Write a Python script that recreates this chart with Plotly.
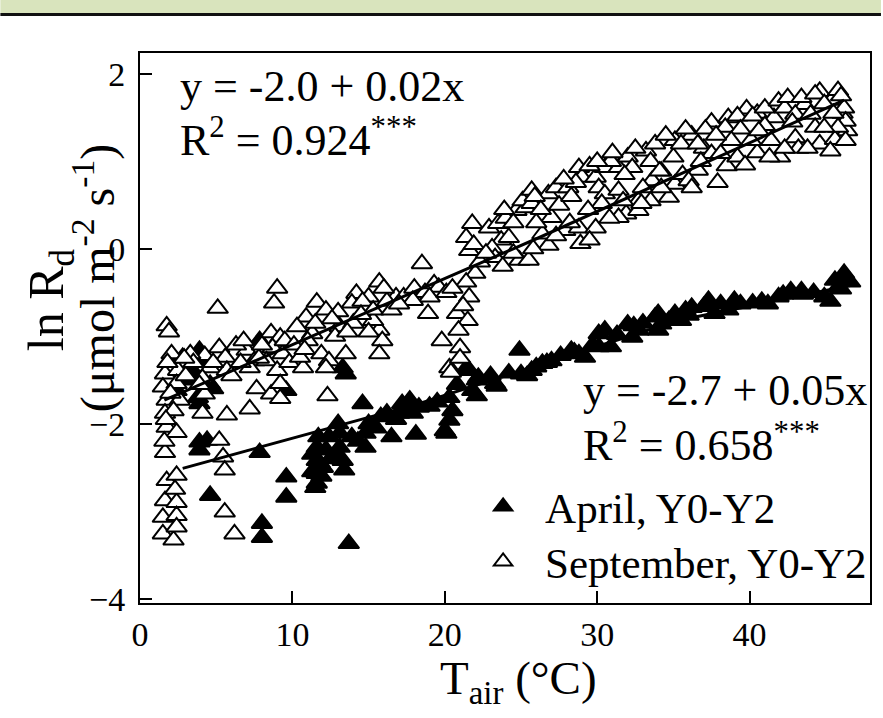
import plotly.graph_objects as go

# ---- data ----
sept_x = [1.75, 2.07, 1.64, 2.5, 1.5, 2.4, 1.75, 2.6, 1.64, 2.2, 1.75, 2.4, 1.64, 1.75, 2.4, 1.64, 2.4, 1.5, 2.4, 1.5, 2.2, 2.4,
          1.8, 2.0, 1.6, 2.3, 1.9, 1.7,
          5.1, 9.0, 8.8, 4.25, 5.2, 5.6, 4.6, 5.7, 4.1, 4.25, 4.1, 5.7, 5.2, 5.45, 5.56, 5.56, 6.2, 7.2, 7.65, 7.0, 7.5, 7.2,
          8.6, 9.2, 8.7, 9.35, 8.3, 9.0, 8.6, 9.2, 9.2, 3.3, 6.3, 6.6, 3.0, 6.8,
          3.5, 4.8, 6.0, 7.8, 8.0, 9.5, 9.8, 3.9, 2.9,
          10.7, 10.5, 10.9, 10.3, 11.6, 11.3, 12.2, 13.0, 11.9, 12.4, 12.2, 13.5, 12.3, 13.1, 14.2, 13.9, 15.7, 15.0, 15.7,
          15.9, 15.7, 15.3, 16.8, 17.9, 11.0, 12.8, 14.6, 15.3, 16.2, 10.1, 14.0,
          10.8, 11.5, 12.6, 13.6, 14.5, 15.0, 16.0, 16.5, 17.3, 18.0, 18.7, 19.3,
          18.5, 19.6, 19.0, 18.9, 17.9, 17.0, 21.8, 21.4, 21.6, 22.0, 21.4, 21.6, 20.8, 21.5, 20.9, 19.8, 21.0, 20.3, 20.4,
          20.1, 20.5, 21.2, 21.9, 22.3, 21.0,
          22.9, 23.5, 23.7, 23.1, 23.3, 22.7, 24.2, 24.9, 25.5, 24.7, 25.3, 25.1, 25.7, 25.7, 26.8, 27.3, 27.0, 26.8, 26.4,
          28.1, 27.9, 28.8, 28.9, 29.9, 28.8, 29.0, 28.6, 29.9, 30.5, 30.1, 30.5, 30.3, 31.4, 31.4, 31.9, 31.4, 32.0, 32.3,
          32.7, 32.7, 33.2, 33.8, 34.2, 33.6, 34.7, 35.1, 35.1, 24.0, 26.0, 27.5, 30.9, 29.4, 33.0,
          23.9, 24.5, 25.9, 26.3, 27.8, 28.3, 29.5, 30.0, 31.0, 31.8, 32.5, 33.5, 34.5, 35.0, 36.2, 37.0, 37.5, 38.6,
          39.8, 40.5, 41.6, 43.6, 44.6, 45.4, 46.1, 46.4,
          23.8, 24.5, 25.8, 27.3, 28.2, 29.5, 30.8, 31.7, 33.5, 34.2, 35.6, 36.6, 38.5, 40.5, 42.0, 44.6, 45.6,
          34.1, 35.8, 35.5, 36.0, 36.2, 36.6, 37.1, 37.9, 37.5, 38.4, 39.2, 39.4, 38.8, 39.2, 39.7, 40.2, 40.1, 41.0, 41.0,
          41.4, 41.3, 41.9, 42.3, 42.5, 43.0, 43.0, 43.2, 43.8, 43.4, 44.3, 44.0, 44.3, 44.9, 45.3, 45.8, 46.2, 46.3, 46.3,
          45.8, 44.9, 42.3, 38.1, 32.9, 36.8, 40.6, 42.8, 45.5, 46.0, 37.8]
sept_y = [-0.88, -1.2, -1.43, -1.39, -1.58, -1.54, -1.73, -1.73, -1.88, -1.85, -2.04, -2.1, -2.33, -2.65, -2.59, -2.88, -2.9,
          -3.07, -3.05, -3.26, -3.33, -3.18,
          -1.3, -1.65, -2.2, -2.75, -0.95, -1.95,
          -0.68, -0.45, -0.62, -1.22, -1.13, -1.24, -1.36, -1.39, -1.48, -1.66, -1.88, -1.9, -2.19, -2.38, -2.53, -3.01, -3.26,
          -1.83, -1.6, -1.16, -1.28, -1.36,
          -0.96, -1.01, -1.13, -1.2, -1.28, -1.39, -1.66, -1.71, -1.54, -1.2, -1.1, -1.3, -1.45, -1.05,
          -1.3, -1.3, -1.45, -1.25, -1.1, -1.05, -1.3, -1.55, -1.25,
          -1.36, -1.24, -0.78, -0.89, -0.61, -0.97, -0.7, -0.72, -1.2, -1.28, -1.36, -1.2, -1.68, -0.89, -0.51, -0.62, -0.38,
          -0.55, -0.93, -1.05, -1.2, -0.82, -0.55, -0.55, -1.05, -1.0, -0.6, -0.7, -0.6, -1.1, -0.85,
          -1.15, -0.85, -0.8, -0.95, -0.75, -0.95, -0.45, -0.7, -0.55, -0.45, -0.5, -0.4,
          -0.17, -0.44, -0.55, -0.74, -0.59, -0.63, 0.29, 0.13, -0.02, -0.28, -0.38, -0.55, -0.74, -0.82, -0.93, -1.05, -1.13,
          -1.36, -1.41, -0.5, -0.45, -0.65, 0.05, -0.15, -1.25,
          0.24, 0.29, 0.1, 0.01, -0.1, -0.05, 0.13, -0.13, -0.13, 0.44, 0.47, 0.55, 0.67, 0.52, 0.63, 0.7, 0.36, 0.04, 0.17,
          0.7, 0.21, 0.24, 0.06, 0.24, 0.93, 0.82, 0.76, 0.82, 0.93, 0.7, 0.63, 0.52, 0.93, 0.67, 0.4, 0.36, 1.05, 0.93,
          0.55, 0.44, 1.12, 1.2, 0.89, 0.78, 0.59, 0.74, 1.24, 0.35, 0.3, 0.5, 1.0, 0.45, 0.7,
          0.45, 0.3, 0.6, 0.45, 0.8, 0.6, 0.95, 1.0, 1.1, 0.85, 1.15, 1.0, 1.3, 1.05, 1.3, 1.15, 1.45, 1.5,
          1.6, 1.55, 1.5, 1.65, 1.8, 1.7, 1.55, 1.35,
          -0.2, -0.05, 0.0, 0.15, 0.3, 0.1, 0.35, 0.55, 0.55, 0.7, 0.85, 0.9, 0.95, 1.1, 1.05, 1.2, 1.25,
          0.89, 1.37, 1.2, 0.78, 0.7, 1.2, 1.37, 0.76, 1.09, 1.39, 1.52, 1.37, 1.24, 1.05, 0.96, 1.52, 1.24, 1.41, 1.61,
          1.24, 1.05, 1.69, 1.61, 1.73, 1.54, 1.27, 1.15, 1.15, 1.73, 1.77, 1.54, 1.39, 1.66, 1.12, 1.81, 1.61, 1.46, 1.24,
          1.39, 1.39, 1.15, 1.09, 0.52, 1.0, 1.35, 1.45, 1.55, 1.75, 1.3]

april_x = [2.8, 3.9, 3.3, 3.8, 3.9, 2.4, 3.9, 4.4, 3.9, 4.6, 7.85, 9.6, 9.6, 8.0, 8.0, 13.7, 11.6, 11.6, 11.6, 11.6,
           11.3, 12.0, 13.1, 13.1, 13.3, 12.9, 14.8, 14.8, 15.0, 14.6, 16.2, 16.5, 17.2, 17.9, 13.3, 13.5, 9.6, 7.85, 2.2,
           11.7, 12.2, 13.0, 14.3, 15.5, 18.1, 20.0, 11.5, 13.4, 4.3, 3.0, 4.6, 11.3, 11.9, 12.5,
           4.1, 3.5, 4.8, 16.8, 17.5, 19.0, 19.5, 20.8, 23.0, 24.2, 26.0, 27.6, 29.7, 31.3, 33.0, 35.5, 37.0, 38.6,
           40.2, 40.8, 42.2, 44.2, 46.0, 12.4, 11.8, 13.9, 15.8,
           24.9, 21.6, 22.2, 23.3, 21.8, 20.3, 20.5, 20.3, 20.1, 18.3, 17.7, 17.0, 25.0, 26.4, 27.0, 25.7, 28.3, 28.8, 29.2,
           30.1, 30.5, 30.1, 30.9, 32.0, 32.7, 32.3, 33.8, 34.2, 34.7, 34.0, 35.1, 34.0, 35.8, 36.2, 37.3, 38.1, 39.0, 39.4,
           37.7, 41.2, 41.9, 42.7, 43.4, 44.9, 45.6, 46.2, 46.4, 45.8, 43.5, 45.3, 46.6, 36.0, 32.4, 28.5, 26.7, 25.4, 23.4,
           22.1, 21.4, 22.1]
april_y = [-1.24, -1.16, -1.36, -1.7, -1.77, -1.62, -2.21, -2.19, -2.3, -2.82, -2.33, -2.61, -2.84, -3.14, -3.3, -3.37,
           -2.27, -2.42, -2.57, -2.68, -2.35, -2.5, -2.11, -2.27, -2.42, -2.35, -2.11, -2.27, -2.0, -1.77, -1.88, -2.15,
           -1.77, -1.88, -1.36, -1.43, -1.62, -1.05, -1.66,
           -2.15, -2.3, -2.0, -2.2, -2.05, -2.12, -2.08, -2.73, -2.53, -1.3, -1.5, -1.55, -2.55, -2.6, -2.4,
           -1.25, -1.45, -1.6, -1.95, -1.85, -1.8, -1.75, -1.55, -1.45, -1.42, -1.35, -1.22, -1.1, -0.98, -0.85, -0.82,
           -0.66, -0.7, -0.62, -0.6, -0.52, -0.5, -0.46, -2.15, -2.45, -2.15, -1.92,
           -1.16, -1.39, -1.47, -1.54, -1.62, -1.7, -1.85, -1.96, -2.11, -1.81, -1.73, -1.88, -1.43, -1.31, -1.28, -1.39,
           -1.16, -1.2, -1.24, -0.97, -0.93, -1.12, -1.12, -0.86, -0.93, -1.01, -0.78, -0.86, -0.82, -0.93, -0.74, -0.74,
           -0.7, -0.67, -0.59, -0.63, -0.59, -0.63, -0.74, -0.63, -0.55, -0.48, -0.48, -0.55, -0.36, -0.28, -0.36, -0.44,
           -0.52, -0.6, -0.38, -0.76, -0.88, -1.18, -1.3, -1.45, -1.57, -1.5, -1.37, -1.68]

# regression lines
sept_fit_x = [1.6, 26.2, 46.2]
sept_fit_y = [-1.73, 0.13, 1.70]
april_fit_x = [2.8, 18.3, 35.3, 46.6]
april_fit_y = [-2.51, -1.77, -0.82, -0.42]

x_ticks = [0, 10, 20, 30, 40]
y_ticks = [-4, -2, 0, 2]

FONT = "Liberation Serif, Times New Roman, serif"
BIG = 44

fig = go.Figure()
fig.add_trace(go.Scatter(
    x=april_x, y=april_y, mode="markers", name="April, Y0-Y2", legend="legend",
    marker=dict(symbol="triangle-up", size=18, color="black", line=dict(color="black", width=2)),
))
fig.add_trace(go.Scatter(
    x=sept_x, y=sept_y, mode="markers", name="September, Y0-Y2", legend="legend2",
    marker=dict(symbol="triangle-up", size=18, color="white", line=dict(color="black", width=2)),
))
fig.add_trace(go.Scatter(x=sept_fit_x, y=sept_fit_y, mode="lines", showlegend=False,
                         line=dict(color="black", width=3)))
fig.add_trace(go.Scatter(x=april_fit_x, y=april_fit_y, mode="lines", showlegend=False,
                         line=dict(color="black", width=3)))

# paper-coordinate helpers for decoration (pixel -> paper)
L, R, T, B = 140, 11, 53, 115
W, H = 883, 718
pw, ph = W - L - R, H - T - B


def px(xp):
    return (xp - L) / pw


def py(yp):
    return 1 - (yp - T) / ph


shapes = [
    dict(type="rect", xref="paper", yref="paper", x0=px(0), x1=px(W), y0=py(13), y1=py(0),
         fillcolor="#d9e4bd", line=dict(width=0), layer="below"),
    dict(type="line", xref="paper", yref="paper", x0=px(0), x1=px(W), y0=py(14.5), y1=py(14.5),
         line=dict(color="#111111", width=3)),
]


def txt(text, x, y, size=BIG, **kw):
    d = dict(text=text, x=px(x), y=py(y), xref="paper", yref="paper", xanchor="left", yanchor="middle",
             showarrow=False, font=dict(size=size, color="black", family=FONT))
    d.update(kw)
    return d


annots = [
    txt("y = -2.0 + 0.02x", 178, 86),
    txt("R<sup>2</sup> = 0.924<sup>***</sup>", 178, 137),
    txt("y = -2.7 + 0.05x", 582, 390),
    txt("R<sup>2</sup> = 0.658<sup>***</sup>", 582, 442),
    txt("ln R<sub>d</sub>", 50, 300, size=50, xanchor="center", textangle=-90),
    txt("(μmol m<sup>-2</sup> s<sup>-1</sup>)", 94, 278, size=48, xanchor="center", textangle=-90),
    txt("T<sub>air</sub> (°C)", 520, 681, size=47, xanchor="center"),
]

legend_common = dict(xref="paper", yref="paper", xanchor="left", yanchor="top",
                     bgcolor="rgba(0,0,0,0)", font=dict(size=43, family=FONT, color="black"),
                     itemwidth=74)

fig.update_layout(
    width=W, height=H,
    margin=dict(l=L, r=R, t=T, b=B),
    paper_bgcolor="white", plot_bgcolor="white",
    font=dict(family=FONT, color="black"),
    showlegend=True,
    legend=dict(x=px(462), y=py(472), **legend_common),
    legend2=dict(x=px(462), y=py(527), **legend_common),
    shapes=shapes,
    annotations=annots,
)
fig.update_xaxes(
    range=[0, 47.9], tickvals=x_ticks, ticks="inside", ticklen=12, tickwidth=2, tickcolor="black",
    showline=True, linecolor="black", linewidth=2, mirror=True, showgrid=False, zeroline=False,
    tickfont=dict(size=34, family=FONT, color="black"),
)
fig.update_yaxes(
    range=[-4.05, 2.24], tickvals=y_ticks, ticks="inside", ticklen=12, tickwidth=2, tickcolor="black",
    showline=True, linecolor="black", linewidth=2, mirror=True, showgrid=False, zeroline=False,
    tickfont=dict(size=34, family=FONT, color="black"), ticklabelstandoff=6,
)

fig.write_html("out.html")
